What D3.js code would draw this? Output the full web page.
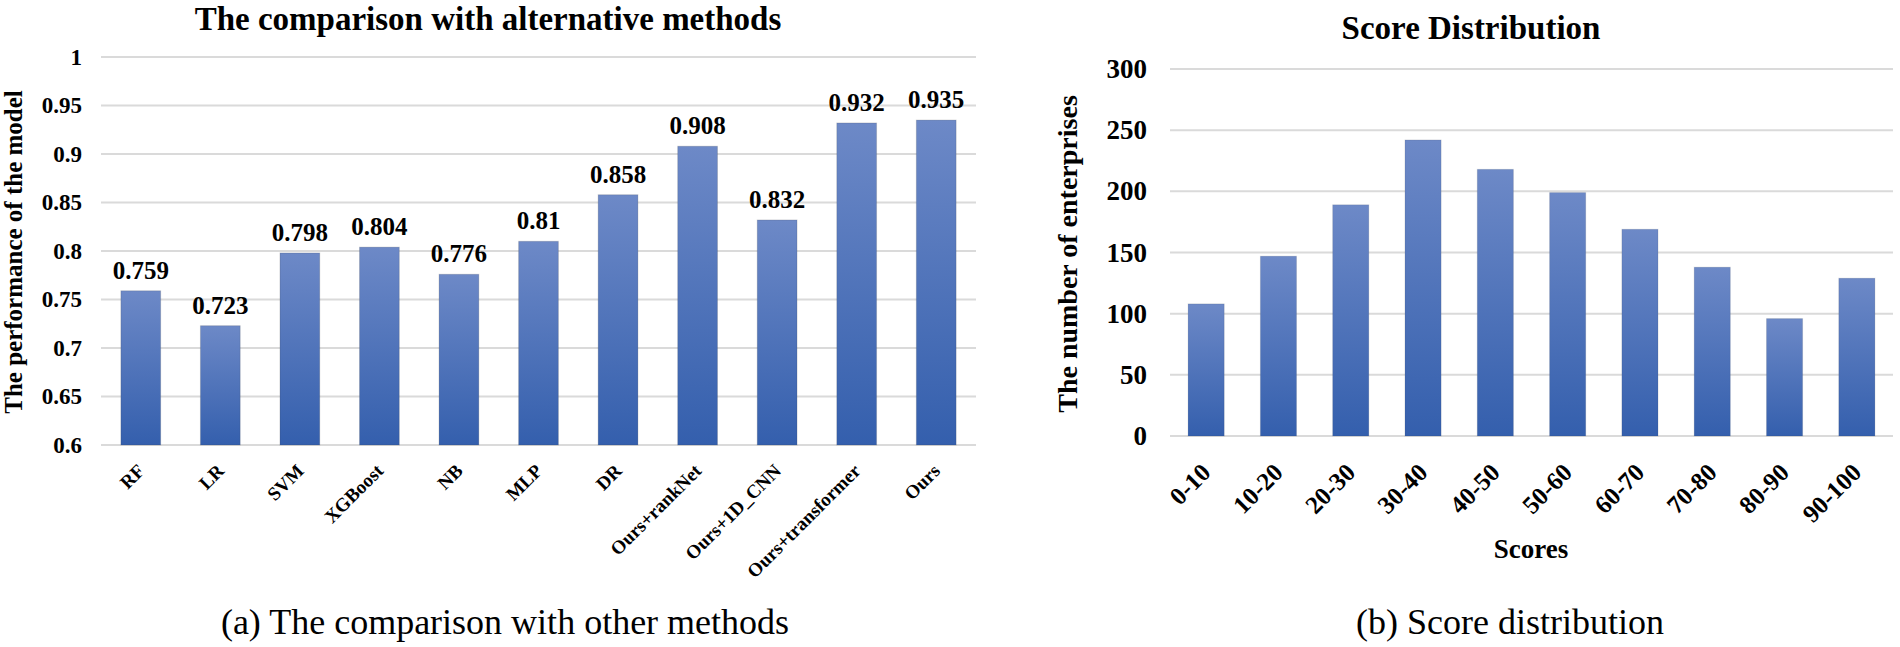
<!DOCTYPE html>
<html>
<head>
<meta charset="utf-8">
<script src="https://cdn.jsdelivr.net/npm/d3@7/dist/d3.min.js"></script>
<style>
  html, body { margin: 0; padding: 0; background: #ffffff; }
  svg { display: block; }
  text { font-family: "Liberation Serif", "Times New Roman", serif; fill: #000; }
</style>
</head>
<body>
<svg id="chart" width="1900" height="647"></svg>
<script>
// ---------- data ----------
const methods = ["RF", "LR", "SVM", "XGBoost", "NB", "MLP", "DR", "Ours+rankNet", "Ours+1D_CNN", "Ours+transformer", "Ours"];
const performance = [0.759, 0.723, 0.798, 0.804, 0.776, 0.81, 0.858, 0.908, 0.832, 0.932, 0.935];
const perfTicks = [0.6, 0.65, 0.7, 0.75, 0.8, 0.85, 0.9, 0.95, 1];
const perfTickLabels = ["0.6", "0.65", "0.7", "0.75", "0.8", "0.85", "0.9", "0.95", "1"];

const scoreBins = ["0-10", "10-20", "20-30", "30-40", "40-50", "50-60", "60-70", "70-80", "80-90", "90-100"];
const enterpriseCounts = [108, 147, 189, 242, 218, 199, 169, 138, 96, 129];
const countTicks = [0, 50, 100, 150, 200, 250, 300];
const countTickLabels = ["0", "50", "100", "150", "200", "250", "300"];

// ---------- setup ----------
const svg = d3.select("#chart");
const defs = svg.append("defs");
const grad = defs.append("linearGradient")
  .attr("id", "barGrad").attr("x1", 0).attr("y1", 0).attr("x2", 0).attr("y2", 1);
grad.append("stop").attr("offset", "0%").attr("stop-color", "#6d89c7");
grad.append("stop").attr("offset", "100%").attr("stop-color", "#345fad");

const gridColor = "#dadada";

// ---------- left chart ----------
const xA = d3.scaleBand().domain(methods).range([101, 976]).paddingInner(0.5).paddingOuter(0.25);
const yA = d3.scaleLinear().domain([0.6, 1]).range([445, 57]);

const gA = svg.append("g");
const yAxisA = d3.axisLeft(yA).tickValues(perfTicks)
  .tickFormat((d, i) => perfTickLabels[i]).tickSize(0).tickPadding(19);
const gyA = gA.append("g").attr("transform", "translate(101,0)").call(yAxisA);
gyA.select(".domain").remove();
gyA.selectAll("text").attr("font-size", 23).attr("font-weight", "bold")
  .attr("font-family", "Liberation Serif").attr("fill", "#000");
gA.append("g").selectAll("line").data(perfTicks).join("line")
  .attr("x1", 101).attr("x2", 976)
  .attr("y1", d => yA(d)).attr("y2", d => yA(d))
  .attr("stroke", gridColor).attr("stroke-width", 2);

gA.append("g").selectAll("rect").data(methods).join("rect")
  .attr("x", d => xA(d))
  .attr("width", xA.bandwidth())
  .attr("y", (d, i) => yA(performance[i]))
  .attr("height", (d, i) => yA(0.6) - yA(performance[i]))
  .attr("fill", "url(#barGrad)")
  .attr("stroke", "rgba(60,60,60,0.18)").attr("stroke-width", 1);

gA.append("g").selectAll("text").data(methods).join("text")
  .attr("x", d => xA(d) + xA.bandwidth() / 2)
  .attr("y", (d, i) => yA(performance[i]) - 12)
  .attr("text-anchor", "middle")
  .attr("font-size", 25).attr("font-weight", "bold")
  .text((d, i) => String(performance[i]));

const xAxisA = d3.axisBottom(xA).tickSize(0).tickPadding(0);
const gxA = gA.append("g").attr("transform", "translate(0,445)").call(xAxisA);
gxA.select(".domain").remove();
gxA.selectAll("text")
  .attr("font-size", 19).attr("font-weight", "bold").attr("font-family", "Liberation Serif").attr("fill", "#000")
  .attr("text-anchor", "end")
  .attr("dy", 0).attr("y", 0)
  .attr("transform", "translate(5,27) rotate(-45)");

gA.append("text")
  .attr("transform", "translate(22,252) rotate(-90)")
  .attr("text-anchor", "middle")
  .attr("font-size", 25).attr("font-weight", "bold")
  .text("The performance of the model");

gA.append("text")
  .attr("x", 488).attr("y", 30)
  .attr("text-anchor", "middle")
  .attr("font-size", 33).attr("font-weight", "bold")
  .text("The comparison with alternative methods");

gA.append("text")
  .attr("x", 505).attr("y", 634)
  .attr("text-anchor", "middle")
  .attr("font-size", 36)
  .text("(a) The comparison with other methods");

// ---------- right chart ----------
const xB = d3.scaleBand().domain(scoreBins).range([1170, 1893]).paddingInner(0.5).paddingOuter(0.25);
const yB = d3.scaleLinear().domain([0, 300]).range([436, 69]);

const gB = svg.append("g");
const yAxisB = d3.axisLeft(yB).tickValues(countTicks)
  .tickFormat((d, i) => countTickLabels[i]).tickSize(0).tickPadding(23);
const gyB = gB.append("g").attr("transform", "translate(1170,0)").call(yAxisB);
gyB.select(".domain").remove();
gyB.selectAll("text").attr("font-size", 27).attr("font-weight", "bold")
  .attr("font-family", "Liberation Serif").attr("fill", "#000");
gB.append("g").selectAll("line").data(countTicks).join("line")
  .attr("x1", 1170).attr("x2", 1893)
  .attr("y1", d => yB(d)).attr("y2", d => yB(d))
  .attr("stroke", gridColor).attr("stroke-width", 2);

gB.append("g").selectAll("rect").data(scoreBins).join("rect")
  .attr("x", d => xB(d))
  .attr("width", xB.bandwidth())
  .attr("y", (d, i) => yB(enterpriseCounts[i]))
  .attr("height", (d, i) => yB(0) - yB(enterpriseCounts[i]))
  .attr("fill", "url(#barGrad)")
  .attr("stroke", "rgba(60,60,60,0.12)").attr("stroke-width", 1);

const xAxisB = d3.axisBottom(xB).tickSize(0).tickPadding(0);
const gxB = gB.append("g").attr("transform", "translate(0,436)").call(xAxisB);
gxB.select(".domain").remove();
gxB.selectAll("text")
  .attr("font-size", 25).attr("font-weight", "bold").attr("font-family", "Liberation Serif").attr("fill", "#000")
  .attr("text-anchor", "end")
  .attr("dy", 0).attr("y", 0)
  .attr("transform", "translate(6,38) rotate(-45)");

gB.append("text")
  .attr("transform", "translate(1077,254) rotate(-90)")
  .attr("text-anchor", "middle")
  .attr("font-size", 28).attr("font-weight", "bold")
  .text("The number of enterprises");

gB.append("text")
  .attr("x", 1531).attr("y", 558)
  .attr("text-anchor", "middle")
  .attr("font-size", 27).attr("font-weight", "bold")
  .text("Scores");

gB.append("text")
  .attr("x", 1471).attr("y", 39)
  .attr("text-anchor", "middle")
  .attr("font-size", 33).attr("font-weight", "bold")
  .text("Score Distribution");

gB.append("text")
  .attr("x", 1510).attr("y", 634)
  .attr("text-anchor", "middle")
  .attr("font-size", 36)
  .text("(b) Score distribution");
</script>
</body>
</html>
